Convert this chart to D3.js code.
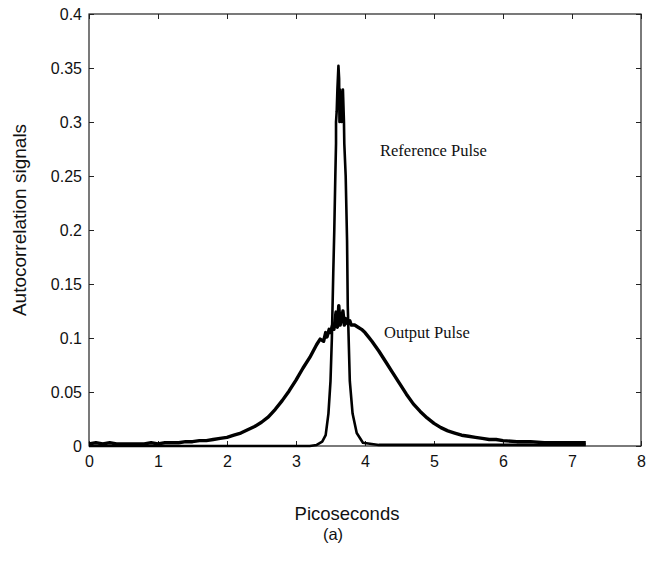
<!DOCTYPE html>
<html><head><meta charset="utf-8">
<script src="https://cdn.jsdelivr.net/npm/d3@7"></script>
<style>body{margin:0;background:#fff}svg{display:block}</style>
</head><body>
<svg id="c" width="654" height="564"></svg>
<script>
// Data
const xTicks = [0,1,2,3,4,5,6,7,8];
const yTicks = [0,0.05,0.1,0.15,0.2,0.25,0.3,0.35,0.4];
const yTickLabels = ["0","0.05","0.1","0.15","0.2","0.25","0.3","0.35","0.4"];

const outputX = [0,0.1,0.2,0.3,0.4,0.5,0.6,0.7,0.8,0.9,1.0,1.1,1.2,1.3,1.4,1.5,1.6,1.7,1.8,1.9,2.0,2.1,2.2,2.3,2.4,2.5,2.6,2.7,2.8,2.9,3.0,3.1,3.2,3.25,3.3,3.35,3.4,3.43,3.45,3.48,3.5,3.53,3.55,3.58,3.6,3.62,3.64,3.66,3.68,3.7,3.72,3.75,3.78,3.8,3.85,3.9,3.95,4.0,4.05,4.1,4.2,4.3,4.4,4.5,4.6,4.7,4.8,4.9,5.0,5.1,5.2,5.3,5.4,5.5,5.6,5.7,5.8,5.9,6.0,6.2,6.4,6.6,6.8,7.0,7.2];
const outputY = [0.002,0.003,0.002,0.003,0.002,0.002,0.002,0.002,0.002,0.003,0.002,0.003,0.003,0.003,0.004,0.004,0.005,0.005,0.006,0.007,0.008,0.010,0.012,0.015,0.018,0.022,0.027,0.034,0.042,0.051,0.061,0.072,0.082,0.088,0.094,0.099,0.097,0.105,0.101,0.108,0.105,0.112,0.108,0.124,0.110,0.130,0.112,0.118,0.125,0.112,0.118,0.113,0.116,0.112,0.112,0.110,0.108,0.105,0.101,0.097,0.088,0.078,0.068,0.058,0.048,0.039,0.032,0.026,0.021,0.017,0.014,0.012,0.010,0.009,0.008,0.007,0.006,0.006,0.005,0.004,0.004,0.003,0.003,0.003,0.003];

const referenceX = [0,1,2,3,3.2,3.3,3.38,3.43,3.47,3.5,3.52,3.54,3.555,3.57,3.58,3.58,3.59,3.60,3.615,3.625,3.63,3.64,3.65,3.66,3.68,3.695,3.70,3.72,3.74,3.75,3.78,3.82,3.88,3.97,4.2,5,6,7,7.2];
const referenceY = [0,0,0,0,0,0.001,0.004,0.01,0.03,0.06,0.10,0.16,0.20,0.25,0.28,0.30,0.31,0.33,0.352,0.34,0.30,0.33,0.31,0.30,0.33,0.30,0.28,0.25,0.19,0.13,0.06,0.03,0.012,0.003,0.001,0.001,0.001,0.001,0.001];

const svg = d3.select("#c");
const L = 89, R = 641, T = 14, B = 446;
const x = d3.scaleLinear().domain([0,8]).range([L,R]);
const y = d3.scaleLinear().domain([0,0.4]).range([B,T]);

const axColor = "#222";
svg.append("rect").attr("x",L).attr("y",T).attr("width",R-L).attr("height",B-T)
  .attr("fill","none").attr("stroke",axColor).attr("stroke-width",1.2);

const tickFont = "Liberation Sans, Arial, Helvetica, sans-serif";
const xb = svg.append("g").attr("transform",`translate(0,${B})`)
  .call(d3.axisBottom(x).tickValues(xTicks).tickSizeInner(-5).tickSizeOuter(0).tickPadding(10).tickFormat(d3.format("d")));
const xt = svg.append("g").attr("transform",`translate(0,${T})`)
  .call(d3.axisTop(x).tickValues(xTicks).tickSizeInner(-5).tickSizeOuter(0).tickFormat(""));
const yl = svg.append("g").attr("transform",`translate(${L},0)`)
  .call(d3.axisLeft(y).tickValues(yTicks).tickSizeInner(-5).tickSizeOuter(0).tickPadding(7).tickFormat((d,i)=>yTickLabels[i]));
const yr = svg.append("g").attr("transform",`translate(${R},0)`)
  .call(d3.axisRight(y).tickValues(yTicks).tickSizeInner(-5).tickSizeOuter(0).tickFormat(""));
[xb,xt,yl,yr].forEach(g=>{
  g.select(".domain").remove();
  g.selectAll(".tick line").attr("stroke",axColor).attr("stroke-width",1);
  g.selectAll("text").attr("fill","#111").style("font-family",tickFont).style("font-size","16px");
});

const line = d3.line().x(d=>x(d[0])).y(d=>y(d[1]));
const outputData = outputX.map((v,i)=>[v,outputY[i]]);
const refData = referenceX.map((v,i)=>[v,referenceY[i]]);
svg.append("path").datum(refData).attr("d",line).attr("fill","none")
  .attr("stroke","#000").attr("stroke-width",2.6).attr("stroke-linejoin","round");
svg.append("path").datum(outputData).attr("d",line).attr("fill","none")
  .attr("stroke","#000").attr("stroke-width",3.4).attr("stroke-linejoin","round");

const serif = "Liberation Serif, Times New Roman, serif";
svg.append("text").attr("x",380).attr("y",156).text("Reference Pulse")
  .style("font-family",serif).style("font-size","16.5px").attr("fill","#111");
svg.append("text").attr("x",384).attr("y",338).text("Output Pulse")
  .style("font-family",serif).style("font-size","16.5px").attr("fill","#111");

svg.append("text").attr("x",347).attr("y",520).attr("text-anchor","middle").text("Picoseconds")
  .style("font-family",tickFont).style("font-size","18.5px").attr("fill","#111");
svg.append("text").attr("x",333).attr("y",540).attr("text-anchor","middle").text("(a)")
  .style("font-family",tickFont).style("font-size","16.5px").attr("fill","#111");
svg.append("text").attr("transform","translate(26,220) rotate(-90)").attr("text-anchor","middle")
  .text("Autocorrelation signals").style("font-family",tickFont).style("font-size","19px").attr("fill","#111");
</script>
</body></html>
